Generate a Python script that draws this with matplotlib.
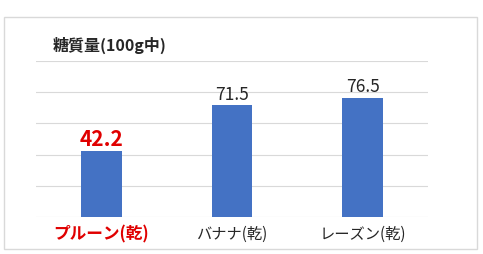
import matplotlib.pyplot as plt
from matplotlib.patches import Rectangle

plt.rcParams['font.family'] = ['Noto Sans CJK JP', 'DejaVu Sans']

categories = ['プルーン(乾)', 'バナナ(乾)', 'レーズン(乾)']
values = [42.2, 71.5, 76.5]
highlight = 0

fig = plt.figure(figsize=(4.83, 2.55), dpi=100)
fig.patches.append(Rectangle((4 / 483, 1 - 250 / 255), 473 / 483, 232 / 255,
                             transform=fig.transFigure, fill=False,
                             edgecolor='#d9d9d9', linewidth=1))

ax = fig.add_axes([36 / 483, 1 - 218 / 255, 392 / 483, 156 / 255])
x = range(len(categories))
ax.bar(x, values, width=0.31, color='#4472c4', zorder=3)
ax.set_xlim(-0.5, 2.5)
ax.set_ylim(0, 100)
ax.set_yticks([0, 20, 40, 60, 80, 100])
ax.grid(axis='y', color='#d9d9d9', linewidth=0.8, zorder=0)
ax.tick_params(left=False, bottom=False, labelleft=False, pad=2)
for s in ax.spines.values():
    s.set_visible(False)
ax.set_xticks(list(x))
ax.set_xticklabels(categories, fontsize=11, color='#262626')
for i, lab in enumerate(ax.get_xticklabels()):
    if i == highlight:
        lab.set_color('#e00000')
        lab.set_fontweight('bold')
        lab.set_fontsize(12)

for i, v in enumerate(values):
    if i == highlight:
        ax.text(i, v + 1.5, f'{v}', ha='center', va='bottom', fontsize=15,
                fontweight='bold', color='#e00000')
    else:
        ax.text(i, v + 1.5, f'{v}', ha='center', va='bottom', fontsize=12.5,
                color='#262626')

fig.text(53 / 483, 1 - 45 / 255, '糖質量(100g中)', fontsize=11.5, fontweight='bold',
         color='#262626', va='center', ha='left')

fig.savefig('out.png', dpi=100)
